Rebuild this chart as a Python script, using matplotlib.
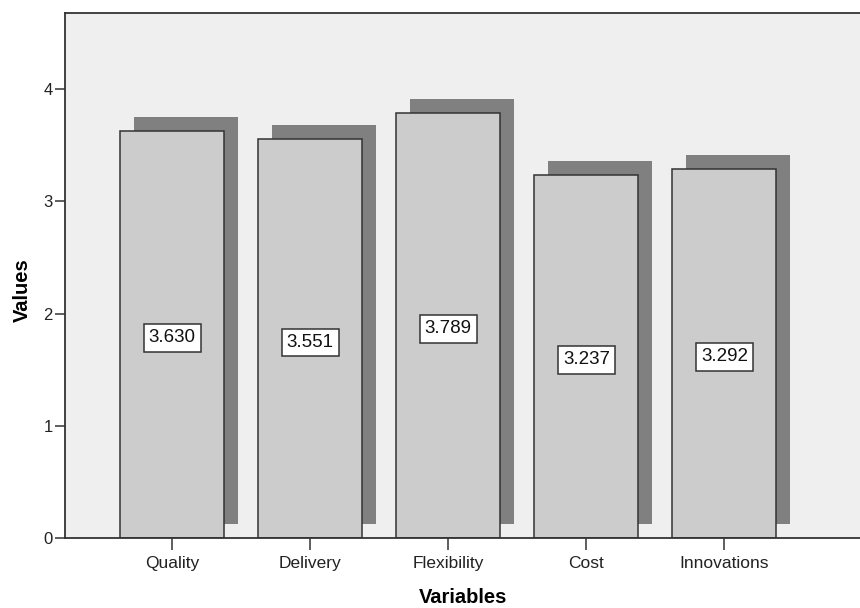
import matplotlib
matplotlib.use("Agg")
import matplotlib.pyplot as plt
from matplotlib.patches import Rectangle
from matplotlib.transforms import ScaledTranslation

categories = ["Quality", "Delivery", "Flexibility", "Cost", "Innovations"]
values = [3.630, 3.551, 3.789, 3.237, 3.292]
y_ticks = [0, 1, 2, 3, 4]

plt.rcParams["font.family"] = ["Liberation Sans", "DejaVu Sans"]

fig = plt.figure(figsize=(8.6, 6.08), dpi=100)
ax = fig.add_axes([65 / 860, 69.7 / 608, 1 - 65 / 860 + 0.002, (538.3 - 12.7) / 608])
ax.set_facecolor("#efefef")

bar_w = 0.755
x = list(range(len(categories)))

# drop shadow: the same bar shifted up and to the right by 14 px
shift = ScaledTranslation(14 / 100, 14 / 100, fig.dpi_scale_trans)
for xi, v in zip(x, values):
    ax.add_patch(Rectangle((xi - bar_w / 2, 0), bar_w, v,
                           transform=ax.transData + shift,
                           facecolor="#808080", edgecolor="none", zorder=1))

ax.bar(x, values, width=bar_w, color="#cccccc", edgecolor="#333333",
       linewidth=1.1, zorder=2)

for xi, v in zip(x, values):
    ax.text(xi, v / 2 - 0.03, f"{v:.3f}", ha="center", va="center",
            fontsize=13.5, color="#111111", zorder=4,
            bbox=dict(boxstyle="square,pad=0.28", facecolor="white",
                      edgecolor="#333333", linewidth=1.1))

ax.set_xlim(-0.777, 4.995)
ax.set_ylim(0, 4.68)
ax.set_xticks(x)
ax.set_xticklabels(categories, fontsize=12.5, color="#222222")
ax.set_yticks(y_ticks)
ax.set_yticklabels([str(t) for t in y_ticks], fontsize=12, color="#222222")

ax.tick_params(axis="x", length=8.6, width=1.1, color="#333333", pad=4.5)
ax.tick_params(axis="y", length=7.2, width=1.1, color="#333333", pad=1.5)

for side in ("left", "top", "bottom"):
    ax.spines[side].set_color("#333333")
    ax.spines[side].set_linewidth(1.3)
ax.spines["right"].set_visible(False)

ax.set_xlabel("Variables", fontsize=14.5, fontweight="bold", labelpad=12)
ax.set_ylabel("Values", fontsize=14.5, fontweight="bold")
ax.yaxis.set_label_coords(-0.0415, 0.473)

fig.savefig("out.png", dpi=100)
